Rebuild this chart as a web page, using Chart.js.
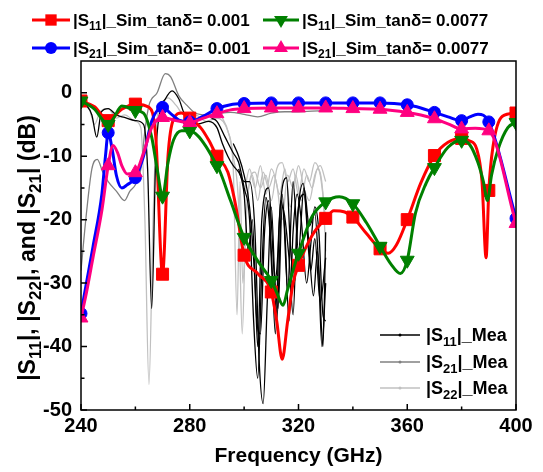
<!DOCTYPE html>
<html>
<head>
<meta charset="utf-8">
<script src="https://cdn.jsdelivr.net/npm/chart.js@4.4.1/dist/chart.umd.min.js"></script>
<style>
  html, body { margin: 0; padding: 0; background: #fff; }
</style>
</head>
<body>
<canvas id="chart" width="543" height="472"></canvas>
<script>
const FONT = '"Liberation Sans", Arial, sans-serif';

// tick labels
const freqTicks = [240, 280, 320, 360, 400];
const dbTicks = [-50, -40, -30, -20, -10, 0];

// |S11| sim, tan d = 0.001 (red)
const s11LowFreq = [240, 245, 250, 255, 260, 265, 267.5, 270, 272, 274, 277, 280, 284, 287, 290, 294, 297, 300, 305, 310, 312, 314, 316, 318, 320, 325, 330, 333, 337, 340, 345, 350, 353, 356, 360, 365, 370, 375, 380, 383, 385.5, 387.5, 389, 390, 391.5, 395, 400];
const s11LowDb = [-1.3, -2.2, -4.4, -2.6, -1.8, -2.3, -7, -28.6, -10, -4.2, -3.2, -4.0, -5.5, -7.5, -10, -12.5, -18, -25.6, -28.5, -31.4, -36, -42, -36, -30, -27.2, -22.5, -19.8, -18.6, -18.8, -19.6, -22.2, -24.6, -25.3, -24, -20, -14.2, -9.9, -7.8, -7.2, -7.6, -8.8, -14, -26, -15.4, -8.6, -3.7, -3.2];

// |S11| sim, tan d = 0.0077 (green)
const s11HighFreq = [240, 245, 248, 250, 252, 255, 260, 263, 266, 268, 270, 272, 274, 277, 280, 283, 286, 290, 291, 295, 300, 305, 310, 312, 314.3, 316, 318, 320, 325, 330, 335, 340, 345, 350, 354, 357.5, 360, 363, 367, 370, 375, 380, 383, 386, 388, 389.5, 391, 393.5, 397, 400];
const s11HighDb = [-1.3, -2.6, -4.3, -5.0, -4.0, -2.1, -2.8, -3.2, -7, -12, -16.3, -11, -7.5, -6, -6, -6.8, -8.5, -11.5, -12.3, -17, -22.8, -26.5, -29.6, -31.5, -33.5, -31, -28, -25.3, -19.5, -17.2, -16.4, -17.5, -20.5, -24.2, -27, -28.5, -26.4, -19, -14.2, -11.8, -8.6, -7.5, -8.2, -11, -14, -17, -13, -8.8, -5.5, -4.7];

// |S21| sim, tan d = 0.001 (blue)
const s21LowFreq = [240, 242, 244.4, 247.7, 249, 250, 251.5, 253, 255, 257, 260, 263, 266, 270, 273, 276, 280, 285, 290, 295, 300, 310, 320, 330, 340, 350, 360, 365, 370, 375, 380, 383, 386, 390, 400];
const s21LowDb = [-34.8, -30, -24.3, -15.9, -10, -6.3, -9, -13, -15, -14.5, -13.4, -10, -4.5, -2.3, -3.3, -4.3, -4.6, -3.7, -2.5, -1.9, -1.7, -1.6, -1.6, -1.6, -1.6, -1.6, -1.9, -2.4, -3.1, -3.8, -4.4, -3.8, -3.4, -4.6, -19.8];

// |S21| sim, tan d = 0.0077 (pink)
const s21HighFreq = [240, 242, 244.4, 247.7, 250, 251.8, 253.5, 255, 257, 260, 263, 266, 270, 275, 280, 285, 290, 295, 300, 310, 320, 330, 340, 350, 360, 365, 370, 375, 380, 385, 390, 400];
const s21HighDb = [-35.5, -31.5, -26, -18.5, -11.5, -8.3, -9.5, -11.5, -12.8, -12.6, -9.5, -5.5, -3.9, -4.4, -4.7, -4, -3.3, -2.7, -2.5, -2.4, -2.4, -2.4, -2.5, -2.6, -3.1, -3.5, -4.1, -4.9, -5.7, -5.6, -6.0, -20.6];

// measured |S11| (black), several sweeps
const s11MeaAFreq = [240, 242, 244, 245.8, 247.5, 250, 253, 256, 260, 263, 264.5, 266, 267.5, 269, 271, 273.5, 276, 278, 283, 287, 290, 292, 294, 296, 298, 300, 302, 304, 305.5, 307, 308.5, 310, 312, 314, 316, 318, 320, 322, 324, 326, 327.5, 329, 330];
const s11MeaADb = [-1.5, -2, -3.5, -7, -3, -2.5, -3.5, -3.9, -4.4, -5, -12, -34, -10, -3, -1, 0.3, -1, -3.3, -4.9, -4.5, -5.5, -8, -10, -11.5, -12.5, -14, -14, -22, -42, -49, -33, -18, -36, -16, -31, -14, -25, -15, -21, -19, -28, -40, -22];
const s11MeaBFreq = [288, 290, 293, 296, 298, 300, 302, 303.5, 305, 306.5, 308, 310, 311.5, 313, 315.6, 317, 318.5, 320, 321.7, 323.5, 325.5, 327, 328.6, 330];
const s11MeaBDb = [-4, -4.5, -7, -9.5, -11, -15, -20, -36, -45, -28, -16.5, -25, -38, -20, -13.4, -24, -30, -18, -14.3, -22, -32, -25, -40, -30];
const s11MeaCFreq = [296, 298, 300, 302, 304, 305, 306.5, 309, 311, 312.5, 314, 316.5, 318, 319.5, 322, 324.5, 326, 328, 330];
const s11MeaCDb = [-8, -10, -13, -18, -30, -40, -20, -15, -28, -34, -18, -26, -35, -20, -16, -28, -23, -33, -26];
const s11MeaDFreq = [298, 300, 301.5, 303, 304.5, 306, 307.5, 309, 310.5, 312, 313.5, 315, 316.5, 318, 319.5, 321, 323, 324.5, 326, 327.5, 329, 330];
const s11MeaDDb = [-12, -16, -25, -20, -35, -38, -22, -17, -30, -28, -17, -22, -36, -22, -16, -20, -30, -24, -18, -22, -35, -36];

// measured |S21| (dark grey)
const s21MeaFreq = [240, 242, 244, 246, 248, 250, 253, 256, 258, 260, 262, 263.5, 265, 268, 271, 273, 276, 279, 282, 286, 290, 295, 300, 305, 310, 315, 320, 325, 330];
const s21MeaDb = [-28, -19, -12, -10.5, -12.5, -14, -15.5, -17, -15.5, -14.5, -12, -6, -2, 0, 3, 2.5, -0.5, -2, -3.2, -3.5, -3.3, -3.1, -3.4, -3.8, -3.2, -3.0, -3.0, -2.9, -2.8];

// measured |S22| (light grey)
const s22MeaAFreq = [240, 243, 245, 247, 250, 253, 256, 260, 262, 263.5, 265, 266.5, 268, 270, 272, 275, 278, 282, 286, 290, 294, 296, 298, 299.3, 300.5, 302, 304, 306, 308, 310, 312, 314, 316, 318, 320, 322, 324, 326, 328, 330];
const s22MeaADb = [-1.3, -2.5, -5, -3, -2.5, -4, -3.5, -4.5, -5.5, -20, -46, -20, -4, -1.5, -0.8, -2, -3.5, -3.5, -4.5, -4, -6, -10, -18, -38, -22, -14, -12.5, -15, -13, -17, -12, -11, -14, -12, -16, -12, -14, -11, -13, -20];
const s22MeaBFreq = [292, 294, 296, 297.4, 298.5, 299.5, 301, 303, 305, 307, 309, 311, 313, 315, 317, 319, 321, 323, 325, 327, 329, 330];
const s22MeaBDb = [-4, -6, -12, -35, -14, -30, -18, -13, -17, -12.5, -15, -13, -16, -12, -18, -13, -17, -13, -15, -12, -16, -25];
const s22MeaCFreq = [300, 302, 304, 306, 308, 310, 312, 314, 316, 318, 320, 322, 324, 326, 328, 330];
const s22MeaCDb = [-16, -12, -15, -11.5, -16, -12, -14.5, -20, -13, -15, -11.5, -15, -17, -13, -11.5, -14];

function pts(freqs, dbs) {
    return freqs.map((f, i) => ({ x: f, y: dbs[i] }));
}

// markers only every 10 GHz, like the simulation export
function markerEvery10(r) {
    return ctx => (ctx.raw && ctx.raw.x % 10 === 0 ? r : 0);
}

function simSet(label, freqs, dbs, color, style, r, rot) {
    return {
        label: label,
        data: pts(freqs, dbs),
        borderColor: color,
        backgroundColor: color,
        borderWidth: 3,
        pointStyle: style,
        pointRotation: rot || 0,
        pointRadius: markerEvery10(r),
        pointBorderWidth: 1,
        cubicInterpolationMode: 'monotone'
    };
}

function meaSet(label, freqs, dbs, color) {
    return {
        label: label,
        data: pts(freqs, dbs),
        borderColor: color,
        borderWidth: 1.3,
        pointRadius: 0,
        cubicInterpolationMode: 'monotone'
    };
}

// draw text with subscripts: odd entries of parts are subscripts
function richWidth(ctx, parts, size) {
    let w = 0;
    parts.forEach((p, i) => {
        ctx.font = `bold ${i % 2 ? Math.round(size * 0.72) : size}px ${FONT}`;
        w += ctx.measureText(p).width;
    });
    return w;
}
function drawRich(ctx, parts, x, y, size) {
    let cx = x;
    parts.forEach((p, i) => {
        const sub = i % 2 === 1;
        ctx.font = `bold ${sub ? Math.round(size * 0.72) : size}px ${FONT}`;
        ctx.fillText(p, cx, sub ? y + size * 0.25 : y);
        cx += ctx.measureText(p).width;
    });
}

function drawMarker(ctx, style, x, y, r, color) {
    ctx.fillStyle = color;
    ctx.beginPath();
    if (style === 'rect') {
        const s = r * Math.SQRT2;
        ctx.rect(x - s / 2, y - s / 2, s, s);
    } else if (style === 'circle') {
        ctx.arc(x, y, r, 0, Math.PI * 2);
    } else {
        const dir = style === 'triangleDown' ? -1 : 1;
        ctx.moveTo(x, y - dir * r);
        ctx.lineTo(x + r * 0.866, y + dir * r / 2);
        ctx.lineTo(x - r * 0.866, y + dir * r / 2);
        ctx.closePath();
    }
    ctx.fill();
}

const simLegend = [
    { parts: ['|S', '11', '|_Sim_tanδ= 0.001'], color: '#ff0000', style: 'rect', r: 8, x1: 32, x2: 70, y: 20 },
    { parts: ['|S', '21', '|_Sim_tanδ= 0.001'], color: '#0000ff', style: 'circle', r: 6, x1: 32, x2: 70, y: 48 },
    { parts: ['|S', '11', '|_Sim_tanδ= 0.0077'], color: '#008000', style: 'triangleDown', r: 8, x1: 263, x2: 299, y: 20 },
    { parts: ['|S', '21', '|_Sim_tanδ= 0.0077'], color: '#ff0080', style: 'triangle', r: 8, x1: 263, x2: 299, y: 48 }
];
const meaLegend = [
    { parts: ['|S', '11', '|_Mea'], color: '#000000', y: 335 },
    { parts: ['|S', '21', '|_Mea'], color: '#808080', y: 362 },
    { parts: ['|S', '22', '|_Mea'], color: '#c0c0c0', y: 388 }
];

const decor = {
    id: 'decor',
    afterDraw(chart) {
        const { ctx, chartArea: a, scales: { x, y } } = chart;
        ctx.save();
        ctx.strokeStyle = '#000';
        ctx.lineWidth = 1.5;
        ctx.strokeRect(a.left, a.top, a.right - a.left, a.bottom - a.top);

        // inward ticks, major + minor
        ctx.beginPath();
        for (let f = 240; f <= 400; f += 20) {
            const px = x.getPixelForValue(f);
            const len = f % 40 === 0 ? 6 : 3.5;
            ctx.moveTo(px, a.bottom);
            ctx.lineTo(px, a.bottom - len);
        }
        for (let d = -50; d <= 0; d += 5) {
            const py = y.getPixelForValue(d);
            const len = d % 10 === 0 ? 6 : 3.5;
            ctx.moveTo(a.left, py);
            ctx.lineTo(a.left + len, py);
        }
        ctx.stroke();

        ctx.fillStyle = '#000';
        ctx.textBaseline = 'alphabetic';
        ctx.textAlign = 'left';

        // y axis title, rotated
        const yTitle = ['|S', '11', '|, |S', '22', '|, and |S', '21', '| (dB)'];
        ctx.save();
        ctx.translate(35, 248);
        ctx.rotate(-Math.PI / 2);
        const tw = richWidth(ctx, yTitle, 23);
        ctx.fillStyle = '#000';
        drawRich(ctx, yTitle, -tw / 2, 0, 23);
        ctx.restore();

        // simulation legend (top)
        simLegend.forEach(item => {
            ctx.strokeStyle = item.color;
            ctx.lineWidth = 3;
            ctx.beginPath();
            ctx.moveTo(item.x1, item.y);
            ctx.lineTo(item.x2, item.y);
            ctx.stroke();
            drawMarker(ctx, item.style, (item.x1 + item.x2) / 2, item.y, item.r, item.color);
            ctx.fillStyle = '#000';
            drawRich(ctx, item.parts, item.x2 + 3, item.y + 6, 17);
        });

        // measurement legend (inside, bottom right)
        meaLegend.forEach(item => {
            ctx.strokeStyle = item.color;
            ctx.lineWidth = 1.5;
            ctx.beginPath();
            ctx.moveTo(380, item.y);
            ctx.lineTo(420, item.y);
            ctx.stroke();
            drawMarker(ctx, 'circle', 400, item.y, 1.5, item.color);
            ctx.fillStyle = '#000';
            drawRich(ctx, item.parts, 426, item.y + 6, 18);
        });
        ctx.restore();
    }
};

new Chart(document.getElementById('chart'), {
    type: 'line',
    data: {
        datasets: [
            simSet('|S21|_Sim_tanδ= 0.0077', s21HighFreq, s21HighDb, '#ff0080', 'triangle', 8),
            simSet('|S11|_Sim_tanδ= 0.0077', s11HighFreq, s11HighDb, '#008000', 'triangle', 8, 180),
            simSet('|S21|_Sim_tanδ= 0.001', s21LowFreq, s21LowDb, '#0000ff', 'circle', 6),
            simSet('|S11|_Sim_tanδ= 0.001', s11LowFreq, s11LowDb, '#ff0000', 'rect', 8.5),
            meaSet('|S11|_Mea', s11MeaAFreq, s11MeaADb, '#000000'),
            meaSet('|S11|_Mea', s11MeaBFreq, s11MeaBDb, '#000000'),
            meaSet('|S11|_Mea', s11MeaCFreq, s11MeaCDb, '#000000'),
            meaSet('|S11|_Mea', s11MeaDFreq, s11MeaDDb, '#000000'),
            meaSet('|S21|_Mea', s21MeaFreq, s21MeaDb, '#808080'),
            meaSet('|S22|_Mea', s22MeaAFreq, s22MeaADb, '#c0c0c0'),
            meaSet('|S22|_Mea', s22MeaBFreq, s22MeaBDb, '#c0c0c0'),
            meaSet('|S22|_Mea', s22MeaCFreq, s22MeaCDb, '#c0c0c0')
        ]
    },
    options: {
        responsive: false,
        animation: false,
        events: [],
        layout: { padding: { top: 61, right: 27, left: 0, bottom: 0 } },
        plugins: { legend: { display: false }, tooltip: { enabled: false } },
        scales: {
            x: {
                type: 'linear',
                min: 240,
                max: 400,
                afterBuildTicks: s => { s.ticks = freqTicks.map(v => ({ value: v })); },
                afterFit: s => { s.height = 62; },
                grid: { display: false, drawTicks: false },
                border: { display: false },
                ticks: { autoSkip: false, maxRotation: 0, padding: 4, color: '#000', font: { family: FONT, size: 20, weight: 'bold' } },
                title: { display: true, text: 'Frequency (GHz)', color: '#000', padding: { top: 0, bottom: 3 }, font: { family: FONT, size: 21, weight: 'bold' } }
            },
            y: {
                min: -50,
                max: 5,
                afterBuildTicks: s => { s.ticks = dbTicks.map(v => ({ value: v })); },
                afterFit: s => { s.width = 81; },
                grid: { display: false, drawTicks: false },
                border: { display: false },
                ticks: { padding: 9, color: '#000', font: { family: FONT, size: 20, weight: 'bold' } }
            }
        }
    },
    plugins: [decor]
});
</script>
</body>
</html>
